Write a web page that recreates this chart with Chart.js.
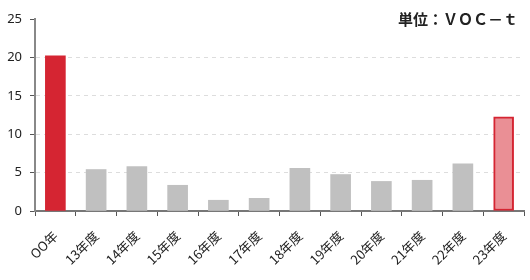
<!DOCTYPE html>
<html>
<head>
<meta charset="utf-8">
<script src="https://cdn.jsdelivr.net/npm/chart.js@4"></script>
<style>
  body { margin: 0; background: #fff; }
  #wrap { position: relative; width: 530px; height: 280px; }
  #unit {
    position: absolute; right: 12px; top: 8px;
    font: bold 15px "Noto Sans CJK JP", sans-serif; color: #222;
  }
</style>
</head>
<body>
<div id="wrap">
  <canvas id="barChart" width="530" height="280"></canvas>
  <div id="unit">単位：ＶＯＣ－ｔ</div>
</div>
<script>
var labels = ['OO年', '13年度', '14年度', '15年度', '16年度', '17年度', '18年度', '19年度', '20年度', '21年度', '22年度', '23年度'];
var values = [20.2, 5.4, 5.8, 3.35, 1.4, 1.65, 5.55, 4.75, 3.85, 4.0, 6.15, 12.25];
var yTicks = [0, 5, 10, 15, 20, 25];

var fills = values.map(function (v, i) {
  if (i === 0) return '#d52532';
  if (i === values.length - 1) return '#ea8f95';
  return '#c0c0c0';
});
var borders = values.map(function (v, i) {
  return i === values.length - 1 ? '#d52532' : 'rgba(0,0,0,0)';
});
var borderWidths = values.map(function (v, i) {
  return i === values.length - 1 ? 2 : 0;
});

new Chart(document.getElementById('barChart'), {
  type: 'bar',
  data: {
    labels: labels,
    datasets: [
    {
      data: values,
      backgroundColor: fills,
      borderColor: borders,
      borderWidth: borderWidths,
      borderSkipped: false,
      barThickness: 20
    }
    ]
  },
  options: {
    responsive: false,
    animation: false,
    layout: { padding: { top: 19, right: 6, left: 0, bottom: 0 } },
    plugins: { legend: { display: false }, tooltip: { enabled: false } },
    scales: {
      x: {
        grid: {
          offset: true,
          drawOnChartArea: false,
          tickLength: 5,
          tickColor: '#555'
        },
        border: { color: '#777', width: 2 },
        ticks: {
          color: '#222',
          font: { size: 13, family: '"Noto Sans CJK JP", sans-serif' },
          minRotation: 45,
          maxRotation: 45,
          padding: 12
        },
        afterFit: function (s) { s.height = 69; }
      },
      y: {
        min: 0,
        max: 25,
        afterBuildTicks: function (s) {
          s.ticks = yTicks.map(function (v) { return { value: v }; });
        },
        grid: {
          color: function (c) {
            var v = c.tick ? c.tick.value : 0;
            return (v === 0 || v === 25) ? 'rgba(0,0,0,0)' : '#ddd';
          },
          tickColor: '#555',
          tickLength: 5,
          tickBorderDash: []
        },
        border: { color: '#888', width: 2, dash: [4, 4] },
        ticks: {
          color: '#222',
          font: { size: 13, family: '"Noto Sans", sans-serif' },
          padding: 8
        },
        afterFit: function (s) { s.width = 35; }
      }
    }
  }
});
</script>
</body>
</html>
